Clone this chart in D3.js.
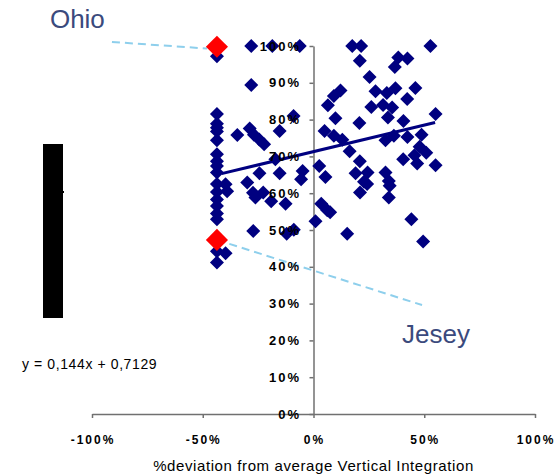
<!DOCTYPE html>
<html>
<head>
<meta charset="utf-8">
<script src="https://cdn.jsdelivr.net/npm/d3@7"></script>
<style>
  html, body { margin: 0; padding: 0; background: #fff; }
  svg { display: block; font-family: "Liberation Sans", Arial, sans-serif; }
</style>
</head>
<body>
<svg id="chart" width="555" height="474"></svg>
<script>
// ---- data (percent) ----
const xVals = [
  -43.6,-43.6,-43.6,-43.6,-43.6,-43.6,-43.6,-43.6,-43.6,-43.6,-43.6,-43.6,-43.6,-43.6,-43.6,-43.6,-43.6,-43.6,
  -39.7,-39.0,-39.7,
  -28.1,-18.6,-6.2,-28.1,-34.4,-28.8,-26.9,-24.5,-22.3,-15.3,-9.0,-29.9,-24.4,-27.3,-26.2,-22.7,-19.1,-12.6,-15.3,
  -4.9,-5.6,-17.2,-27.2,-12.1,-8.9,0.9,2.6,5.4,3.5,6.2,7.5,15.2,5.0,6.5,9.2,12.2,9.9,9.2,13.0,16.3,
  17.5,21.5,20.9,25.3,28.0,33.1,37.0,46.0,42.3,26.1,31.4,35.5,33.6,40.6,20.7,55.1,52.8,38.3,42.4,36.7,
  32.5,36.3,42.4,48.8,47.9,50.9,45.6,40.5,46.8,55.1,20.9,19.0,24.4,32.5,34.0,34.4,34.0,24.2,22.8,21.0,44.2,49.5
];
const yVals = [
  97.2,81.5,78.9,77.8,76.8,74.4,70.6,68.7,67.4,65.6,62.5,60.3,58.3,56.5,54.5,52.9,44.2,41.2,
  62.4,60.5,43.7,
  100,100,100,89.4,75.8,77.6,75.9,74.6,73.3,76.9,81.0,62.9,65.4,60.1,58.8,60.2,57.8,57.1,65.4,
  66.0,63.8,69.2,49.7,49.0,50.1,52.4,67.4,64.4,57.1,55.4,54.8,49.0,76.9,83.9,86.4,87.9,80.4,75.6,74.5,71.4,
  100,100,96.0,91.6,87.7,87.2,88.5,88.6,85.6,83.4,84.0,83.3,80.6,79.6,79.1,81.5,100,96.9,96.6,94.3,
  74.4,75.6,75.3,75.9,72.6,71.0,70.3,69.2,68.1,67.6,68.7,65.4,65.6,65.6,63.3,62.0,58.8,62.5,63.1,60.2,52.9,46.9
];
// highlighted states
const highlightNames = ["Ohio", "Jesey"];
const highlightX = [-43.6, -43.6];
const highlightY = [99.8, 47.3];
// annotation leader lines: [start, end] in data units
const leaderX = [[-91, -48], [-43.6, 49]];
const leaderY = [[101.1, 99.3], [47.3, 29.6]];
const labelX = [-119, 40];
const labelY = [105.0, 19.2];
// regression
const trendSlope = 0.144, trendIntercept = 0.7129;
const trendRange = [-41.5, 54.9];
const equationText = "y = 0,144x + 0,7129";
// axes
const xTicks = [-100, -50, 0, 50, 100];
const xTickLabels = ["-100%", "-50%", "0%", "50%", "100%"];
const yTicks = [0,10,20,30,40,50,60,70,80,90,100];
const yTickLabels = ["0%","10%","20%","30%","40%","50%","60%","70%","80%","90%","100%"];
const xTitle = "%deviation from average Vertical Integration";

// ---- drawing ----
const svg = d3.select("#chart");
const x = d3.scaleLinear().domain([-100, 100]).range([92, 535]);
const y = d3.scaleLinear().domain([0, 100]).range([414, 46]);
const navy = "#000080";
const axisColor = "#707070";

// black block on left
svg.append("rect").attr("x", 43).attr("y", 144).attr("width", 20).attr("height", 174).attr("fill", "#000");
svg.append("rect").attr("x", 62).attr("y", 191).attr("width", 2).attr("height", 2).attr("fill", "#000");

// axes lines + ticks
const xAxis = d3.axisBottom(x).tickValues(xTicks).tickSize(4).tickSizeOuter(0).tickFormat((d,i) => xTickLabels[i]).tickPadding(17);
const yAxis = d3.axisLeft(y).tickValues(yTicks).tickSize(4).tickSizeOuter(0).tickFormat((d,i) => yTickLabels[i]).tickPadding(8.5);

const gx = svg.append("g").attr("transform", `translate(0,${y(0)})`).call(xAxis);
const gy = svg.append("g").attr("transform", `translate(${x(0)},0)`).call(yAxis);
[gx, gy].forEach(g => {
  g.select(".domain").attr("stroke", axisColor).attr("stroke-width", 1.5);
  g.selectAll(".tick line").attr("stroke", axisColor).attr("stroke-width", 1.5);
  g.selectAll(".tick text").remove();
});

// dashed leader lines
const lead = svg.append("g");
leaderX.forEach((lx, i) => {
  lead.append("line")
    .attr("x1", x(lx[0])).attr("y1", y(leaderY[i][0]))
    .attr("x2", x(lx[1])).attr("y2", y(leaderY[i][1]))
    .attr("stroke", "#8ecfec").attr("stroke-width", 2).attr("stroke-dasharray", "8,5");
});

// points
const diamond = d3.symbol().type(d3.symbolSquare).size(98);
svg.append("g").selectAll("path").data(xVals.map((v, i) => [v, yVals[i]])).join("path")
  .attr("d", diamond)
  .attr("transform", d => `translate(${x(d[0])},${y(d[1])}) rotate(45)`)
  .attr("fill", navy);

// trend line
svg.append("line")
  .attr("x1", x(trendRange[0])).attr("y1", y(100 * (trendSlope * trendRange[0] / 100 + trendIntercept)))
  .attr("x2", x(trendRange[1])).attr("y2", y(100 * (trendSlope * trendRange[1] / 100 + trendIntercept)))
  .attr("stroke", navy).attr("stroke-width", 3);

// highlighted
const bigDiamond = d3.symbol().type(d3.symbolSquare).size(245);
svg.append("g").selectAll("path").data(highlightX.map((v, i) => [v, highlightY[i]])).join("path")
  .attr("d", bigDiamond)
  .attr("transform", d => `translate(${x(d[0])},${y(d[1])}) rotate(45)`)
  .attr("fill", "#ff0000");

// tick labels on top
const labStyle = sel => sel.attr("font-weight", "bold").attr("fill", "#000");
svg.append("g").selectAll("text").data(yTicks).join("text")
  .attr("x", x(0) - 12.5).attr("y", d => y(d)).attr("dy", "0.35em")
  .attr("text-anchor", "end").attr("font-size", 13).attr("letter-spacing", 2)
  .call(labStyle).text((d, i) => yTickLabels[i]);
svg.append("g").selectAll("text").data(xTicks).join("text")
  .attr("x", d => x(d) + 1).attr("y", y(0) + 30)
  .attr("text-anchor", "middle").attr("font-size", 12).attr("letter-spacing", 2)
  .call(labStyle).text((d, i) => xTickLabels[i]);

// x title
svg.append("text").attr("x", x(0)).attr("y", 471).attr("text-anchor", "middle")
  .attr("font-size", 15).attr("letter-spacing", 0.6).attr("fill", "#000").text(xTitle);

// equation
svg.append("text").attr("x", 22).attr("y", 369).attr("font-size", 14).attr("letter-spacing", 0.6)
  .attr("fill", "#000").text(equationText);

// state labels
svg.append("g").selectAll("text").data(highlightNames).join("text")
  .attr("x", (d, i) => x(labelX[i])).attr("y", (d, i) => y(labelY[i]))
  .attr("font-size", 26).attr("fill", "#3b4a7d").text(d => d);
</script>
</body>
</html>
